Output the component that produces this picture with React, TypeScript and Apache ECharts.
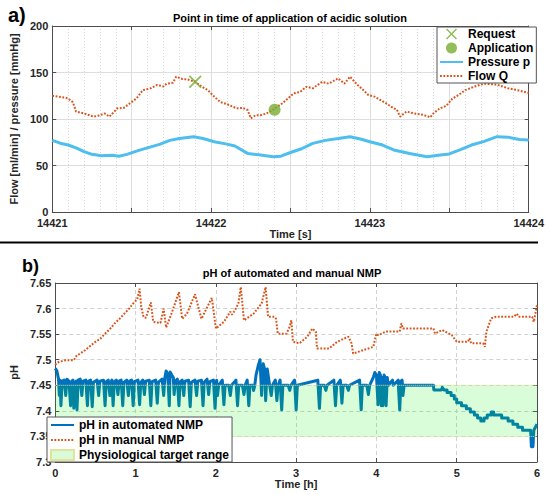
import { useEffect, useRef } from "react";
import * as echarts from "echarts";

// ---------- Panel a) data (time in s) ----------
const pressureData: number[][] = [
  [14421.0, 77], [14421.05, 74], [14421.1, 72], [14421.15, 69], [14421.2, 65], [14421.25, 62],
  [14421.31, 60.5], [14421.38, 61], [14421.42, 60], [14421.47, 62], [14421.54, 66], [14421.61, 69.5],
  [14421.68, 73], [14421.74, 77], [14421.8, 79], [14421.89, 81], [14421.95, 79], [14422.02, 75.6],
  [14422.1, 73], [14422.15, 71], [14422.23, 63], [14422.3, 61.5], [14422.39, 59.5], [14422.44, 60],
  [14422.5, 64], [14422.57, 68], [14422.64, 73.8], [14422.72, 77], [14422.8, 79], [14422.875, 81],
  [14422.94, 78.5], [14423.0, 75.6], [14423.08, 72], [14423.15, 66.7], [14423.25, 63], [14423.36, 59.5],
  [14423.43, 61], [14423.5, 62.4], [14423.57, 67], [14423.64, 72], [14423.72, 76], [14423.8, 81],
  [14423.87, 80.5], [14423.94, 78], [14424.0, 77.4],
];

const flowData: number[][] = [
  [14421.0, 125], [14421.04, 124], [14421.08, 123], [14421.1, 122], [14421.13, 118], [14421.15, 108],
  [14421.2, 106], [14421.26, 102.5], [14421.3, 104], [14421.33, 106], [14421.36, 102.5], [14421.41, 111.5],
  [14421.45, 112], [14421.49, 117], [14421.53, 122], [14421.57, 131], [14421.62, 133], [14421.66, 136.6],
  [14421.7, 135], [14421.72, 138], [14421.76, 139], [14421.78, 145.5], [14421.82, 143], [14421.85, 142.6],
  [14421.9, 140], [14421.94, 135], [14421.98, 131], [14422.02, 124], [14422.06, 118], [14422.1, 116],
  [14422.16, 111.5], [14422.2, 112], [14422.23, 109.7], [14422.25, 100.7], [14422.28, 104], [14422.31, 104],
  [14422.35, 106], [14422.39, 110], [14422.45, 117], [14422.52, 127.6], [14422.56, 129], [14422.6, 134.7],
  [14422.64, 133], [14422.7, 140], [14422.74, 138], [14422.8, 143.7], [14422.84, 138], [14422.875, 145.5],
  [14422.92, 137], [14422.96, 131], [14422.99, 125.8], [14423.03, 124], [14423.07, 120], [14423.11, 116],
  [14423.15, 111.5], [14423.17, 110], [14423.19, 102.5], [14423.23, 108], [14423.28, 106], [14423.34, 104.3],
  [14423.38, 101.8], [14423.4, 106], [14423.44, 111.5], [14423.48, 114], [14423.52, 122], [14423.56, 126],
  [14423.6, 131], [14423.66, 135], [14423.72, 138], [14423.8, 137], [14423.87, 133], [14423.93, 131],
  [14424.0, 128],
];

const requestPoint: number[][] = [[14421.9, 140]];
const applicationPoint: number[][] = [[14422.4, 110]];

// ---------- Panel b) data (time in h) ----------
const phAutomated: number[][] = [
  [0, 7.483], [0.02, 7.478], [0.04, 7.462], [0.05, 7.43], [0.06, 7.46], [0.07, 7.41], [0.085, 7.458],
  [0.11, 7.46], [0.13, 7.43], [0.145, 7.462], [0.17, 7.458], [0.19, 7.41], [0.205, 7.458], [0.22, 7.46],
  [0.23, 7.405], [0.245, 7.455], [0.26, 7.458], [0.27, 7.402], [0.285, 7.46], [0.31, 7.462], [0.33, 7.43],
  [0.345, 7.458], [0.38, 7.46], [0.4, 7.41], [0.415, 7.458], [0.44, 7.46], [0.46, 7.408], [0.475, 7.456],
  [0.52, 7.46], [0.54, 7.43], [0.555, 7.458], [0.6, 7.46], [0.62, 7.41], [0.635, 7.457], [0.66, 7.46],
  [0.68, 7.43], [0.695, 7.456], [0.705, 7.46], [0.72, 7.41], [0.735, 7.457], [0.76, 7.46], [0.78, 7.432],
  [0.795, 7.458], [0.82, 7.46], [0.84, 7.41], [0.855, 7.456], [0.89, 7.46], [0.91, 7.43], [0.925, 7.458],
  [0.95, 7.46], [0.97, 7.41], [0.985, 7.457], [1.03, 7.46], [1.05, 7.412], [1.065, 7.456], [1.09, 7.46],
  [1.11, 7.432], [1.125, 7.458], [1.17, 7.46], [1.19, 7.41], [1.205, 7.457], [1.25, 7.46], [1.27, 7.415],
  [1.285, 7.456], [1.33, 7.462], [1.35, 7.43], [1.365, 7.465], [1.38, 7.478], [1.4, 7.472], [1.42, 7.41],
  [1.43, 7.476], [1.45, 7.47], [1.47, 7.465], [1.48, 7.432], [1.495, 7.458], [1.52, 7.462], [1.54, 7.41],
  [1.555, 7.457], [1.58, 7.46], [1.6, 7.43], [1.615, 7.458], [1.66, 7.46], [1.68, 7.408], [1.695, 7.456],
  [1.74, 7.46], [1.76, 7.43], [1.775, 7.458], [1.82, 7.46], [1.84, 7.41], [1.855, 7.456], [1.89, 7.462],
  [1.91, 7.432], [1.925, 7.457], [1.97, 7.46], [1.99, 7.405], [2.005, 7.455], [2.01, 7.46], [2.02, 7.43],
  [2.035, 7.45], [2.08, 7.46], [2.1, 7.412], [2.115, 7.45], [2.16, 7.45], [2.18, 7.43], [2.195, 7.45],
  [2.25, 7.46], [2.27, 7.41], [2.285, 7.45], [2.33, 7.45], [2.35, 7.432], [2.365, 7.45], [2.39, 7.46],
  [2.41, 7.41], [2.425, 7.45], [2.46, 7.45], [2.47, 7.44], [2.485, 7.45], [2.5, 7.47], [2.53, 7.49],
  [2.55, 7.5], [2.57, 7.43], [2.59, 7.492], [2.61, 7.48], [2.62, 7.42], [2.64, 7.482], [2.66, 7.46],
  [2.69, 7.43], [2.705, 7.45], [2.74, 7.46], [2.76, 7.42], [2.775, 7.45], [2.8, 7.46], [2.82, 7.402],
  [2.835, 7.45], [2.9, 7.45], [2.92, 7.44], [2.935, 7.45], [2.98, 7.46], [3.0, 7.402], [3.015, 7.45],
  [3.27, 7.46], [3.29, 7.405], [3.305, 7.45], [3.35, 7.45], [3.37, 7.44], [3.385, 7.45], [3.47, 7.46],
  [3.49, 7.41], [3.505, 7.45], [3.55, 7.46], [3.57, 7.415], [3.585, 7.45], [3.63, 7.45], [3.65, 7.44],
  [3.665, 7.45], [3.79, 7.46], [3.81, 7.402], [3.825, 7.45], [3.88, 7.45], [3.9, 7.432], [3.915, 7.45],
  [3.96, 7.465], [3.98, 7.475], [4.0, 7.47], [4.02, 7.412], [4.035, 7.475], [4.05, 7.47], [4.06, 7.41],
  [4.075, 7.465], [4.08, 7.41], [4.095, 7.47], [4.11, 7.465], [4.12, 7.41], [4.135, 7.465], [4.15, 7.45],
  [4.2, 7.46], [4.21, 7.45], [4.27, 7.46], [4.29, 7.402], [4.305, 7.458], [4.32, 7.46], [4.33, 7.43],
  [4.345, 7.45], [4.71, 7.45], [4.715, 7.441], [4.81, 7.441], [4.82, 7.446], [4.84, 7.441], [4.88, 7.441],
  [4.88, 7.436], [4.93, 7.436], [4.93, 7.43], [4.97, 7.43], [4.97, 7.423], [5.0, 7.423], [5.0, 7.416],
  [5.06, 7.416], [5.06, 7.41], [5.12, 7.41], [5.12, 7.404], [5.17, 7.404], [5.17, 7.398], [5.22, 7.398],
  [5.22, 7.392], [5.26, 7.392], [5.26, 7.386], [5.3, 7.386], [5.3, 7.38], [5.34, 7.38], [5.34, 7.386],
  [5.38, 7.386], [5.38, 7.392], [5.43, 7.392], [5.43, 7.398], [5.46, 7.398], [5.46, 7.392], [5.56, 7.392],
  [5.56, 7.386], [5.64, 7.386], [5.64, 7.38], [5.7, 7.38], [5.7, 7.374], [5.76, 7.374], [5.76, 7.368],
  [5.82, 7.368], [5.82, 7.362], [5.92, 7.362], [5.93, 7.33], [5.95, 7.33], [5.96, 7.362], [5.98, 7.368],
  [6.0, 7.374],
];

const phManual: number[][] = [
  [0.0, 7.49], [0.02, 7.494], [0.05, 7.496], [0.1, 7.498], [0.13, 7.499], [0.23, 7.499], [0.27, 7.509],
  [0.3, 7.511], [0.375, 7.519], [0.42, 7.525], [0.5, 7.535], [0.56, 7.541], [0.62, 7.551], [0.68, 7.56],
  [0.74, 7.571], [0.8, 7.58], [0.86, 7.59], [0.92, 7.6], [0.97, 7.61], [1.02, 7.618], [1.05, 7.639],
  [1.07, 7.603], [1.1, 7.583], [1.13, 7.582], [1.19, 7.612], [1.22, 7.574], [1.31, 7.572], [1.35, 7.6],
  [1.38, 7.563], [1.44, 7.587], [1.54, 7.632], [1.58, 7.58], [1.64, 7.59], [1.74, 7.628], [1.82, 7.58],
  [1.95, 7.621], [2.0, 7.561], [2.1, 7.574], [2.18, 7.594], [2.2, 7.588], [2.24, 7.597], [2.28, 7.61],
  [2.31, 7.642], [2.35, 7.577], [2.47, 7.59], [2.57, 7.61], [2.62, 7.642], [2.65, 7.584], [2.73, 7.584],
  [2.75, 7.58], [2.77, 7.551], [2.88, 7.551], [2.92, 7.565], [2.94, 7.577], [2.96, 7.535], [3.04, 7.532],
  [3.14, 7.545], [3.2, 7.561], [3.245, 7.555], [3.26, 7.522], [3.41, 7.522], [3.51, 7.535], [3.65, 7.545],
  [3.69, 7.532], [3.71, 7.512], [3.84, 7.519], [3.96, 7.525], [4.0, 7.551], [4.02, 7.548], [4.12, 7.555],
  [4.29, 7.555], [4.31, 7.571], [4.33, 7.561], [4.57, 7.561], [4.71, 7.561], [4.73, 7.551], [4.82, 7.558],
  [4.94, 7.548], [5.0, 7.535], [5.14, 7.535], [5.16, 7.542], [5.18, 7.532], [5.33, 7.532], [5.35, 7.525],
  [5.37, 7.555], [5.43, 7.581], [5.49, 7.584], [5.71, 7.584], [5.75, 7.59], [5.77, 7.584], [5.94, 7.584],
  [5.96, 7.574], [5.98, 7.59], [6.0, 7.607],
];

// [tStart, tEnd, pHLow, pHHigh]
const targetRange: number[][] = [[0, 6, 7.35, 7.45]];

const FONT = '"Liberation Sans", Arial, Helvetica, sans-serif';
const TXT = "#262626";
const AXIS = "#4d4d4d";

const X_ICON = "path://M0,1L1,0L5,4L9,0L10,1L6,5L10,9L9,10L5,6L1,10L0,9L4,5Z";
const NO_SYMBOL = { color: "rgba(0,0,0,0)", borderWidth: 0, opacity: 0 };

export default function App() {
  const ref = useRef<HTMLDivElement>(null);

  useEffect(() => {
    if (!ref.current) return;
    const chart = echarts.init(ref.current, undefined, { renderer: "svg" });

    const labelStyle = { color: TXT, fontFamily: FONT, fontWeight: "bold" as const, fontSize: 11 };
    const nameStyle = { color: TXT, fontFamily: FONT, fontWeight: "bold" as const, fontSize: 11 };
    const tick = { show: true, inside: true, length: 4, lineStyle: { color: AXIS, width: 1 } };
    const line = { show: true, onZero: false, lineStyle: { color: AXIS, width: 1 } };
    const legendText = { color: "#000", fontFamily: FONT, fontWeight: "bold", fontSize: 12 };

    const option: any = {
      animation: false,
      backgroundColor: "#ffffff",
      grid: [
        { left: 47, top: 26, width: 487, height: 186 },
        { left: 47, top: 283, width: 490, height: 179 },
      ],
      xAxis: [
        {
          gridIndex: 0, type: "value", min: 14421, max: 14424, interval: 0.5, position: "bottom",
          axisLine: line, axisTick: tick,
          axisLabel: {
            ...labelStyle, margin: 5,
            formatter: (v: number) => (Math.abs(v - Math.round(v)) < 1e-6 ? String(Math.round(v)) : ""),
          },
          splitLine: { show: true, lineStyle: { color: "#dedede", width: 1 } },
          minorTick: { show: false, splitNumber: 5 },
          minorSplitLine: { show: true, lineStyle: { color: "#d6d6d6", width: 1, type: [1, 2] } },
          name: "Time [s]", nameLocation: "middle", nameGap: 16, nameTextStyle: nameStyle,
        },
        {
          gridIndex: 0, type: "value", min: 14421, max: 14424, interval: 0.5, position: "top",
          axisLine: line, axisTick: tick, axisLabel: { show: false }, splitLine: { show: false },
        },
        {
          gridIndex: 1, type: "value", min: 0, max: 6, interval: 1, position: "bottom",
          axisLine: line, axisTick: tick, axisLabel: { ...labelStyle, margin: 5 },
          splitLine: { show: true, lineStyle: { color: "#d2d2d2", width: 1, type: [4, 3] } },
          name: "Time [h]", nameLocation: "middle", nameGap: 16, nameTextStyle: nameStyle,
        },
        {
          gridIndex: 1, type: "value", min: 0, max: 6, interval: 1, position: "top",
          axisLine: line, axisTick: tick, axisLabel: { show: false }, splitLine: { show: false },
        },
      ],
      yAxis: [
        {
          gridIndex: 0, type: "value", min: 0, max: 200, interval: 50, position: "left",
          axisLine: line, axisTick: tick, axisLabel: { ...labelStyle, margin: 4 },
          splitLine: { show: true, lineStyle: { color: "#dedede", width: 1 } },
          name: "Flow [ml/min] / pressure [mmHg]", nameLocation: "middle", nameGap: 24,
          nameTextStyle: nameStyle,
        },
        {
          gridIndex: 0, type: "value", min: 0, max: 200, interval: 50, position: "right",
          axisLine: line, axisTick: tick, axisLabel: { show: false }, splitLine: { show: false },
        },
        {
          gridIndex: 1, type: "value", min: 7.3, max: 7.65, interval: 0.05, position: "left",
          axisLine: line, axisTick: tick, axisLabel: { ...labelStyle, margin: 4 },
          splitLine: { show: true, lineStyle: { color: "#d2d2d2", width: 1, type: [4, 3] } },
          name: "pH", nameLocation: "middle", nameGap: 29, nameTextStyle: nameStyle,
        },
        {
          gridIndex: 1, type: "value", min: 7.3, max: 7.65, interval: 0.05, position: "right",
          axisLine: line, axisTick: tick, axisLabel: { show: false }, splitLine: { show: false },
        },
      ],
      legend: [
        {
          orient: "vertical", left: 437, top: 27,
          data: [
            { name: "Request" },
            { name: "Application" },
            { name: "Pressure p", itemStyle: NO_SYMBOL },
            { name: "Flow Q", itemStyle: NO_SYMBOL },
          ],
          itemWidth: 23, itemHeight: 11, itemGap: 2,
          padding: [1, 3, 1, 2],
          backgroundColor: "#ffffff", borderColor: "#555", borderWidth: 1, borderRadius: 0,
          textStyle: legendText,
          z: 10,
        },
        {
          orient: "vertical", left: 47, top: 417,
          data: [
            { name: "pH in automated NMP", itemStyle: NO_SYMBOL },
            { name: "pH in manual NMP", itemStyle: NO_SYMBOL },
            { name: "Physiological target range", icon: "rect" },
          ],
          itemWidth: 23, itemHeight: 10, itemGap: 3,
          padding: [2, 3, 1, 3],
          backgroundColor: "#ffffff", borderColor: "#555", borderWidth: 1, borderRadius: 0,
          textStyle: legendText,
          z: 10,
        },
      ],
      series: [
        {
          name: "Pressure p", type: "line", xAxisIndex: 0, yAxisIndex: 0, data: pressureData,
          symbol: "none", showSymbol: false, smooth: false,
          lineStyle: { color: "#4DBEEE", width: 3 }, itemStyle: { color: "#4DBEEE" }, z: 2,
        },
        {
          name: "Flow Q", type: "line", xAxisIndex: 0, yAxisIndex: 0, data: flowData,
          symbol: "none", showSymbol: false,
          lineStyle: { color: "#D95319", width: 2, type: [1.8, 1.6], cap: "butt" },
          itemStyle: { color: "#D95319" }, z: 3,
        },
        {
          name: "Request", type: "scatter", xAxisIndex: 0, yAxisIndex: 0, data: requestPoint,
          symbol: X_ICON, symbolSize: 13, itemStyle: { color: "#77AC30" }, z: 5,
        },
        {
          name: "Application", type: "scatter", xAxisIndex: 0, yAxisIndex: 0, data: applicationPoint,
          symbol: "circle", symbolSize: 12, itemStyle: { color: "#77AC30" }, z: 5,
        },
        {
          name: "pH in automated NMP", type: "line", xAxisIndex: 2, yAxisIndex: 2, data: phAutomated,
          symbol: "none", showSymbol: false,
          lineStyle: { color: "#0072BD", width: 3, join: "round" }, itemStyle: { color: "#0072BD" }, z: 2,
        },
        {
          name: "pH in manual NMP", type: "line", xAxisIndex: 2, yAxisIndex: 2, data: phManual,
          symbol: "none", showSymbol: false,
          lineStyle: { color: "#D95319", width: 2, type: [1.8, 1.6], cap: "butt" },
          itemStyle: { color: "#D95319" }, z: 3,
        },
        {
          name: "Physiological target range", type: "custom", xAxisIndex: 2, yAxisIndex: 2,
          data: targetRange, encode: { x: [0, 1], y: [2, 3] }, z: 4, silent: true,
          itemStyle: { color: "#d9fbd9", borderColor: "#e2e29a", borderWidth: 1, borderType: [1, 1] },
          renderItem: (_params: any, api: any) => {
            const p1 = api.coord([api.value(0), api.value(3)]);
            const p2 = api.coord([api.value(1), api.value(2)]);
            return {
              type: "group",
              children: [
                {
                  type: "rect",
                  shape: { x: p1[0], y: p1[1], width: p2[0] - p1[0], height: p2[1] - p1[1] },
                  style: { fill: "rgba(0,235,0,0.15)" },
                },
                {
                  type: "line",
                  shape: { x1: p1[0], y1: p1[1], x2: p2[0], y2: p1[1] },
                  style: { stroke: "#e3e39a", lineWidth: 1, lineDash: [1, 1] },
                },
                {
                  type: "line",
                  shape: { x1: p1[0], y1: p2[1], x2: p2[0], y2: p2[1] },
                  style: { stroke: "#e3e39a", lineWidth: 1, lineDash: [1, 1] },
                },
              ],
            };
          },
        },
      ],
      graphic: [
        {
          type: "text", left: 8, top: 5,
          style: { text: "a)", font: `bold 20px ${FONT}`, fill: "#000" },
        },
        {
          type: "text", left: 22, top: 257,
          style: { text: "b)", font: `bold 18px ${FONT}`, fill: "#000" },
        },
        {
          type: "text", x: 290, y: 18,
          style: {
            text: "Point in time of application of acidic solution", font: `bold 11px ${FONT}`,
            fill: "#000", textAlign: "center", textVerticalAlign: "middle", align: "center", verticalAlign: "middle",
          },
        },
        {
          type: "text", x: 292, y: 273,
          style: {
            text: "pH of automated and manual NMP", font: `bold 11px ${FONT}`,
            fill: "#000", textAlign: "center", textVerticalAlign: "middle", align: "center", verticalAlign: "middle",
          },
        },
        {
          type: "line", shape: { x1: 0, y1: 242.5, x2: 538, y2: 242.5 },
          style: { stroke: "#000", lineWidth: 2 },
        },
      ],
    };

    chart.setOption(option);
    return () => chart.dispose();
  }, []);

  return (
    <div
      ref={ref}
      style={{ position: "fixed", left: 0, top: 0, width: 547, height: 495, background: "#fff" }}
    />
  );
}
